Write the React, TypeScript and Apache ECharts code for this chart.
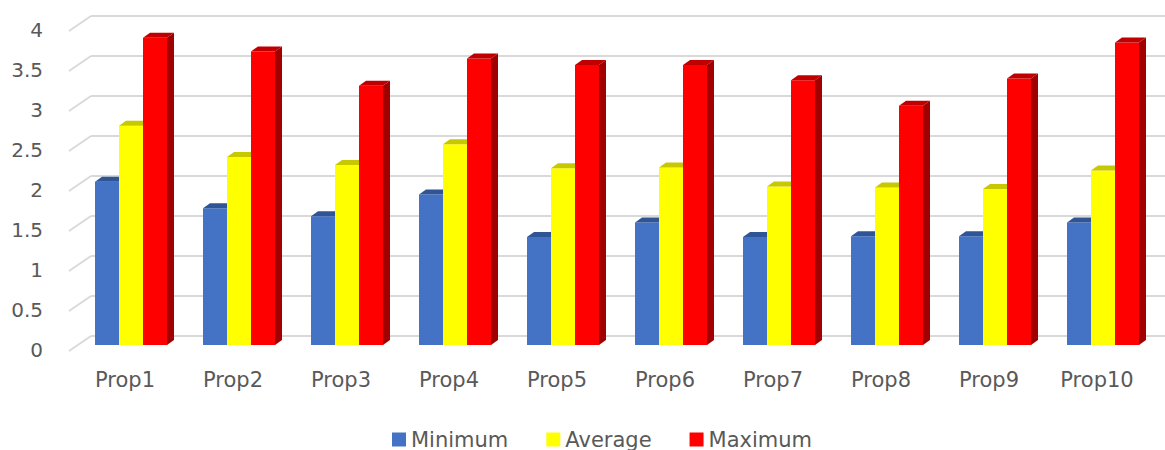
import React, { useEffect, useRef } from "react";
import * as echarts from "echarts";

const categories = ["Prop1", "Prop2", "Prop3", "Prop4", "Prop5", "Prop6", "Prop7", "Prop8", "Prop9", "Prop10"];
const minimum = [2.04, 1.71, 1.61, 1.88, 1.35, 1.53, 1.35, 1.36, 1.36, 1.53];
const average = [2.74, 2.35, 2.25, 2.51, 2.21, 2.22, 1.98, 1.97, 1.95, 2.18];
const maximum = [3.84, 3.67, 3.24, 3.58, 3.5, 3.5, 3.31, 2.99, 3.33, 3.78];
const seriesNames = ["Minimum", "Average", "Maximum"];
const wallTicks = [0, 0.5, 1, 1.5, 2, 2.5, 3, 3.5, 4];

const FONT = "DejaVu Sans";
const LABEL = "#595959";
const GRIDC = "#d9d9d9";
const BW = 24;
const DX = 7;
const DY = -5;
const SHIFT = 6;

const palettes = [
  { front: "#4472C4", top: "#2F5597", side: "#2F5597" },
  { front: "#FFFF00", top: "#C8C800", side: "#B0B000" },
  { front: "#FF0000", top: "#C00000", side: "#A00000" },
];

function makeRender(i: number) {
  const pal = palettes[i];
  return (params: any, api: any) => {
    const cat = api.value(0);
    const v = api.value(1);
    const base = api.coord([cat, 0]);
    const tp = api.coord([cat, v]);
    const x0 = base[0] + SHIFT - (BW * 3) / 2 + BW * i;
    const x1 = x0 + BW;
    const yb = base[1];
    const yt = tp[1];
    return {
      type: "group",
      children: [
        {
          type: "polygon",
          shape: { points: [[x0, yb], [x1, yb], [x1, yt], [x0, yt]] },
          style: { fill: pal.front },
        },
        {
          type: "polygon",
          shape: { points: [[x0, yt], [x1, yt], [x1 + DX, yt + DY], [x0 + DX, yt + DY]] },
          style: { fill: pal.top },
        },
        {
          type: "polygon",
          shape: { points: [[x1, yb], [x1 + DX, yb + DY], [x1 + DX, yt + DY], [x1, yt]] },
          style: { fill: pal.side },
        },
      ],
    };
  };
}

export default function App() {
  const ref = useRef<HTMLDivElement>(null);
  useEffect(() => {
    if (!ref.current) return;
    const chart = echarts.init(ref.current, null, { renderer: "svg" });
    const lists = [minimum, average, maximum];
    const barSeries = lists.map((arr, i) => ({
      type: "custom",
      name: seriesNames[i],
      xAxisIndex: 0,
      yAxisIndex: 0,
      itemStyle: { color: palettes[i].front },
      data: arr.map((v, k) => [k, v]),
      renderItem: makeRender(i),
      z: 3 + i,
    }));
    const option: any = {
      animation: false,
      backgroundColor: "#ffffff",
      grid: [
        { left: 71, right: 14, top: 25, bottom: 105 },
        { left: 70, right: 14, top: 30, bottom: 100 },
        { left: 91, right: 0, top: 16, bottom: 114 },
      ],
      xAxis: [
        {
          type: "category",
          gridIndex: 0,
          data: categories,
          axisLine: { show: false },
          axisTick: { show: false },
          axisLabel: { fontFamily: FONT, fontSize: 21, color: LABEL, margin: 24 },
        },
        { type: "value", gridIndex: 1, show: false, min: 0, max: 1 },
        { type: "value", gridIndex: 2, show: false, min: 0, max: 1 },
      ],
      yAxis: [
        {
          type: "value",
          gridIndex: 0,
          min: 0,
          max: 4,
          interval: 0.5,
          axisLine: { show: false },
          axisTick: { show: false },
          axisLabel: { show: false },
          splitLine: { show: false },
        },
        {
          type: "value",
          gridIndex: 1,
          min: 0,
          max: 4,
          interval: 0.5,
          axisLine: { show: false },
          axisTick: { show: false },
          splitLine: { show: false },
          axisLabel: { fontFamily: FONT, fontSize: 20, color: LABEL, margin: 27 },
        },
        {
          type: "value",
          gridIndex: 2,
          min: 0,
          max: 4,
          interval: 0.5,
          axisLine: { show: false },
          axisTick: { show: false },
          axisLabel: { show: false },
          splitLine: { show: true, lineStyle: { color: GRIDC, width: 2 } },
        },
      ],
      legend: {
        data: seriesNames,
        left: 387,
        top: 424,
        icon: "rect",
        itemWidth: 14,
        itemHeight: 14,
        itemGap: 38,
        textStyle: { fontFamily: FONT, fontSize: 21, color: LABEL },
      },
      series: [
        {
          type: "custom",
          name: "wall",
          xAxisIndex: 2,
          yAxisIndex: 2,
          silent: true,
          data: wallTicks.map((t) => [0, t]),
          renderItem: (params: any, api: any) => {
            const p = api.coord([0, api.value(1)]);
            return {
              type: "line",
              shape: { x1: p[0], y1: p[1], x2: p[0] - 22, y2: p[1] + 15 },
              style: { stroke: GRIDC, lineWidth: 2 },
            };
          },
          z: 1,
        },
        ...barSeries,
      ],
    };
    chart.setOption(option);
    return () => chart.dispose();
  }, []);
  return (
    <div
      ref={ref}
      style={{ position: "fixed", left: 0, top: 0, width: 1165, height: 450, background: "#fff" }}
    />
  );
}
